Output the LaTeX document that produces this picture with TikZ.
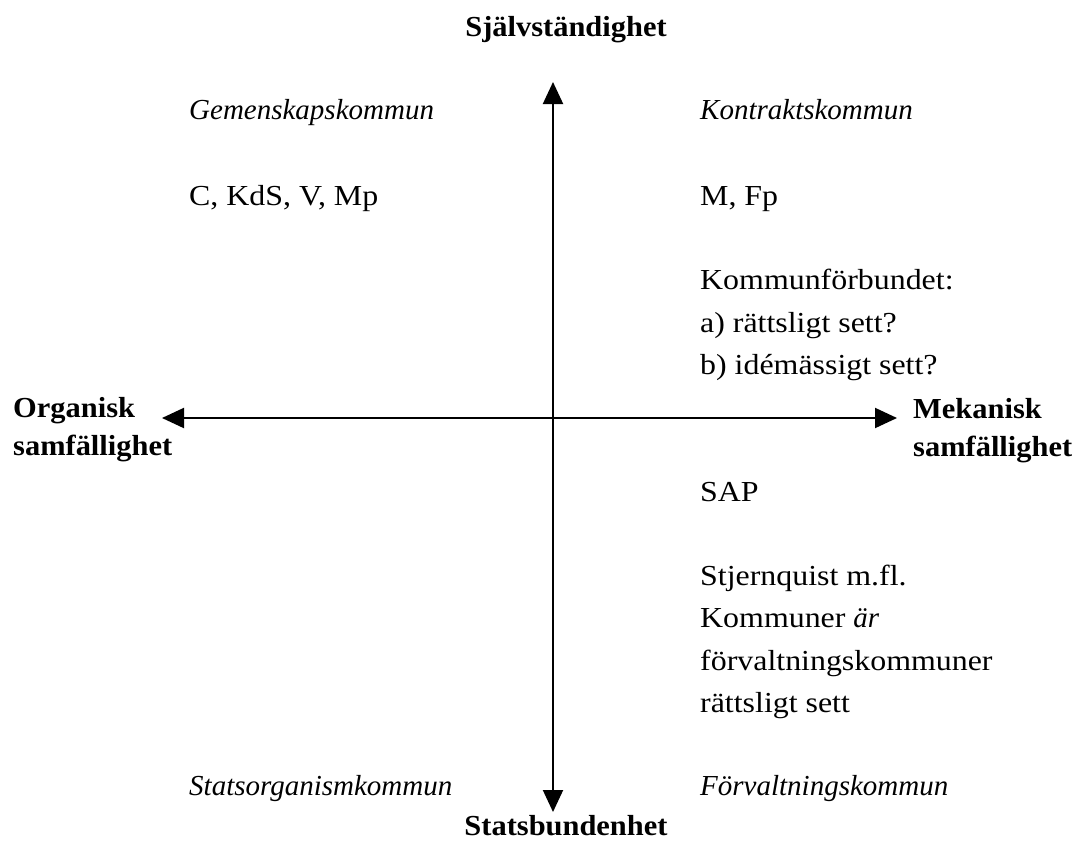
\documentclass[tikz,border=0pt]{standalone}
\usepackage{fontspec}
\setmainfont{Liberation Serif}[UprightFeatures={FakeStretch=1.1},BoldFeatures={FakeStretch=1.05}]
\usetikzlibrary{arrows.meta}
\begin{document}
\begin{tikzpicture}[x=1pt,y=-1pt,
  txt/.style={anchor=base west, inner sep=0pt, font=\fontsize{29}{34}\selectfont},
  itxt/.style={txt, font=\fontsize{29}{34}\selectfont\itshape},
  btxt/.style={txt, font=\fontsize{29}{34}\selectfont\bfseries},
  ctitle/.style={anchor=base, inner sep=0pt, font=\fontsize{29}{34}\selectfont\bfseries},
  axisline/.style={line width=2pt, {Triangle[length=22pt,width=20pt]}-{Triangle[length=22pt,width=20pt]}}]
\useasboundingbox (0,0) rectangle (1082,841);
% axes
\coordinate (top) at (553,82);
\coordinate (bot) at (553,812);
\coordinate (lft) at (162,418);
\coordinate (rgt) at (897,418);
\draw[axisline] (bot) -- (top);
\draw[axisline] (lft) -- (rgt);
% axis labels
\node[ctitle] (sj) at (566,36) {Självständighet};
\node[ctitle] (sb) at (566,835) {Statsbundenhet};
\node[btxt] (org1) at (13,417) {Organisk};
\node[btxt] (org2) at (13,455) {samfällighet};
\node[btxt] (mek1) at (913,418) {Mekanisk};
\node[btxt] (mek2) at (913,456) {samfällighet};
% quadrants
\node[itxt] (gem) at (189,119) {Gemenskapskommun};
\node[itxt] (kon) at (700,119) {Kontraktskommun};
\node[txt] (cks) at (189,205) {C, KdS, V, Mp};
\node[txt] (mfp) at (700,205) {M, Fp};
\node[txt] (kf1) at (700,289) {Kommunförbundet:};
\node[txt] (kf2) at (700,332) {a) rättsligt sett?};
\node[txt] (kf3) at (700,374) {b) idémässigt sett?};
\node[txt] (sap) at (700,501) {SAP};
\node[txt] (st1) at (700,585) {Stjernquist m.fl.};
\node[txt] (st2) at (700,627) {Kommuner \textit{är}};
\node[txt] (st3) at (700,670) {förvaltningskommuner};
\node[txt] (st4) at (700,712) {rättsligt sett};
\node[itxt] (sok) at (189,795) {Statsorganismkommun};
\node[itxt] (fk) at (700,795) {Förvaltningskommun};
\end{tikzpicture}
\end{document}
